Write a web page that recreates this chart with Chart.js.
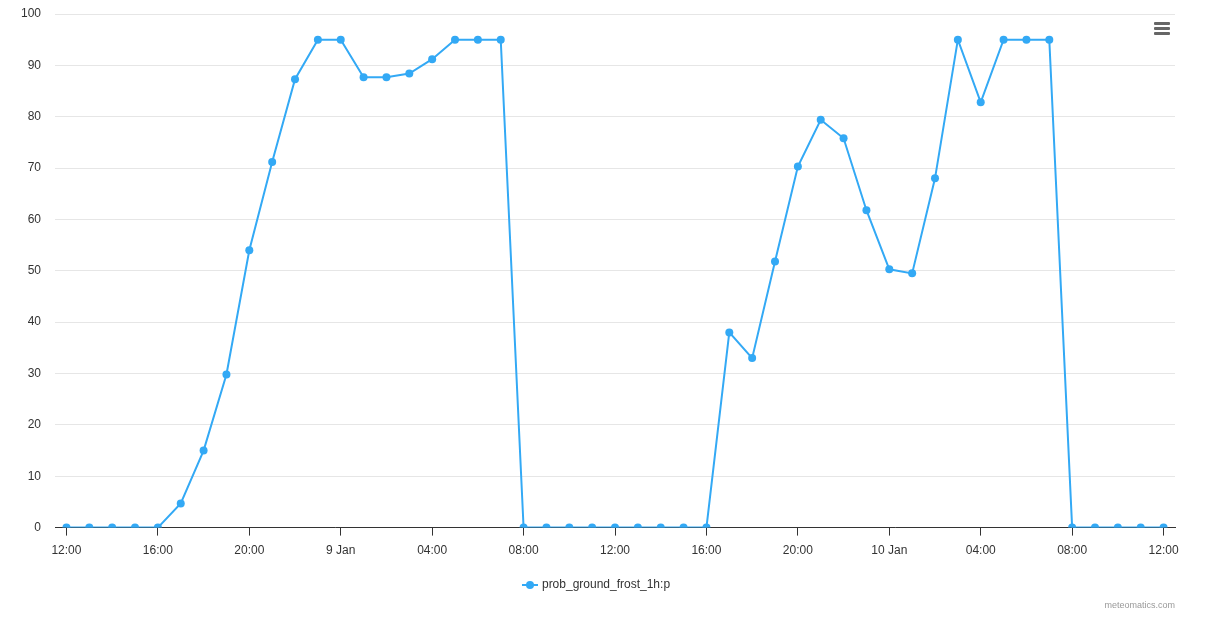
<!DOCTYPE html>
<html>
<head>
<meta charset="utf-8">
<script src="https://cdn.jsdelivr.net/npm/chart.js@4/dist/chart.umd.min.js"></script>
<style>
  body { margin: 0; background: #fff; }
  #wrap { position: relative; width: 1222px; height: 627px; }
  #menu { position: absolute; left: 1154px; top: 22px; width: 16px; }
  #menu div { height: 3px; background: #666; margin-bottom: 2px; border-radius: 1px; }
  #credits { position: absolute; right: 47px; top: 600px; font: 9px "Liberation Sans", Arial, sans-serif; color: #999; }
</style>
</head>
<body>
<div id="wrap">
  <canvas id="chart" width="1222" height="627"></canvas>
  <div id="menu"><div></div><div></div><div></div></div>
  <div id="credits">meteomatics.com</div>
</div>
<script>
// Hourly probability, 8 Jan 12:00 -> 10 Jan 12:00
const hours = Array.from({ length: 49 }, (_, i) => i);
const frostProb = [
    0, 0, 0, 0, 0, 4.7, 15, 29.8, 54, 71.2, 87.3, 95,
    95, 87.7, 87.7, 88.4, 91.2, 95, 95, 95, 0, 0, 0, 0,
    0, 0, 0, 0, 0, 38, 33, 51.8, 70.3, 79.4, 75.8, 61.8,
    50.3, 49.5, 68, 95, 82.8, 95, 95, 95, 0, 0, 0, 0, 0
];
const tickHours = [0, 4, 8, 12, 16, 20, 24, 28, 32, 36, 40, 44, 48];
const tickLabels = ['12:00', '16:00', '20:00', '9 Jan', '04:00', '08:00',
    '12:00', '16:00', '20:00', '10 Jan', '04:00', '08:00', '12:00'];

const lineColor = '#33a9f5';
const fontFam = '"Liberation Sans", Arial, Helvetica, sans-serif';

// Legend symbol: short line with a dot
const sym = document.createElement('canvas');
sym.width = 16; sym.height = 10;
const sctx = sym.getContext('2d');
sctx.strokeStyle = lineColor; sctx.lineWidth = 2;
sctx.beginPath(); sctx.moveTo(0, 5); sctx.lineTo(16, 5); sctx.stroke();
sctx.fillStyle = lineColor;
sctx.beginPath(); sctx.arc(8, 5, 4, 0, Math.PI * 2); sctx.fill();

new Chart(document.getElementById('chart'), {
    type: 'line',
    data: {
        datasets: [{
            label: 'prob_ground_frost_1h:p',
            data: hours.map((h, i) => ({ x: h, y: frostProb[i] })),
            borderColor: lineColor,
            backgroundColor: lineColor,
            borderWidth: 2,
            pointRadius: 4,
            pointBorderWidth: 0,
            pointHoverRadius: 5,
            tension: 0
        }]
    },
    options: {
        responsive: false,
        animation: false,
        layout: { padding: { left: 19, right: 47, top: 14, bottom: 26 } },
        plugins: {
            legend: {
                position: 'bottom',
                labels: {
                    usePointStyle: true,
                    pointStyle: sym,
                    color: '#333',
                    font: { family: fontFam, size: 12 },
                    padding: 13
                }
            },
            tooltip: { enabled: false }
        },
        scales: {
            x: {
                type: 'linear',
                min: -0.5,
                max: 48.5,
                afterBuildTicks: axis => {
                    axis.ticks = tickHours.map(v => ({ value: v }));
                },
                ticks: {
                    color: '#333',
                    font: { family: fontFam, size: 12 },
                    padding: 8,
                    maxRotation: 0,
                    autoSkip: false,
                    callback: v => tickLabels[tickHours.indexOf(v)]
                },
                grid: { drawOnChartArea: false, drawTicks: true, tickLength: 8, color: '#333' },
                border: { color: '#333', width: 1 }
            },
            y: {
                min: 0,
                max: 100,
                ticks: {
                    stepSize: 10,
                    color: '#333',
                    font: { family: fontFam, size: 12 },
                    padding: 2
                },
                grid: { color: '#e6e6e6', drawTicks: true, tickLength: 12, tickColor: 'rgba(0,0,0,0)' },
                border: { display: false }
            }
        }
    }
});
</script>
</body>
</html>
